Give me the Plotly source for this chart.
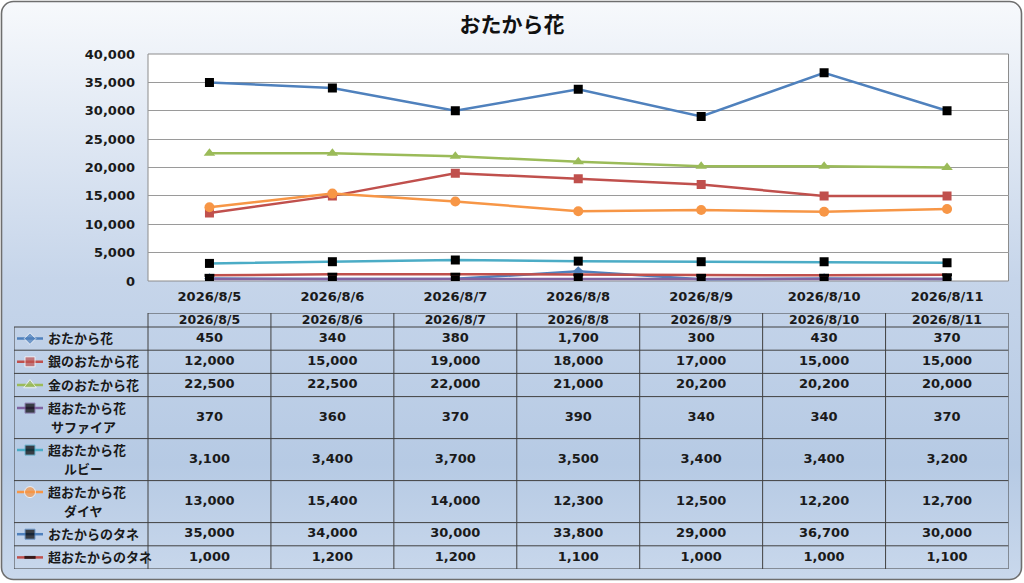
import base64

import plotly.graph_objects as go

# -- data -------------------------------------------------------------------
dates = ["2026/8/5", "2026/8/6", "2026/8/7", "2026/8/8", "2026/8/9", "2026/8/10", "2026/8/11"]
names = [
    "おたから花",
    "銀のおたから花",
    "金のおたから花",
    "超おたから花<br>サファイア",
    "超おたから花<br>ルビー",
    "超おたから花<br>ダイヤ",
    "おたからのタネ",
    "超おたからのタネ",
]
otakara = [450, 340, 380, 1700, 300, 430, 370]
gin = [12000, 15000, 19000, 18000, 17000, 15000, 15000]
kin = [22500, 22500, 22000, 21000, 20200, 20200, 20000]
sapphire = [370, 360, 370, 390, 340, 340, 370]
ruby = [3100, 3400, 3700, 3500, 3400, 3400, 3200]
diamond = [13000, 15400, 14000, 12300, 12500, 12200, 12700]
tane = [35000, 34000, 30000, 33800, 29000, 36700, 30000]
chou_tane = [1000, 1200, 1200, 1100, 1000, 1000, 1100]
series = [otakara, gin, kin, sapphire, ruby, diamond, tane, chou_tane]

# -- styles -----------------------------------------------------------------
line_colors = ["#4f81bd", "#c0504d", "#9bbb59", "#8064a2", "#4bacc6", "#f79646", "#4f81bd", "#c0504d"]
markers = [
    {"symbol": "diamond", "size": 8, "color": "#4f81bd"},
    {"symbol": "square", "size": 9, "color": "#c0504d"},
    {"symbol": "triangle-up", "size": 10, "color": "#9bbb59"},
    {"symbol": "square", "size": 9, "color": "black"},
    {"symbol": "square", "size": 9, "color": "black"},
    {"symbol": "circle", "size": 10, "color": "#f79646"},
    {"symbol": "square", "size": 9, "color": "black"},
    {"symbol": "line-ew", "size": 7, "color": "black", "line": {"color": "black", "width": 3}},
]

W, H = 1024, 583
FONT = "DejaVu Sans, Noto Sans CJK JP"
TXT = "#1a1a1a"
tfont = {"family": FONT, "size": 13, "color": TXT, "weight": "bold"}

# plot / table geometry in pixels
PL, PR, PT, PB = 148, 1008.5, 54, 281
TL = 14
TT = 313
col_w = (PR - PL) / len(dates)
header_h = 14
row_h = [23.2 if n.count("<br>") == 0 else 42 for n in names]
line_gap = 19


def px_to_tx(px):
    """Pixel x -> table axis units (data column i is centred on i)."""
    return -0.5 - (PL - px) / col_w


fig = go.Figure()

# -- chart ------------------------------------------------------------------
for name, vals, lc, mk in zip(names, series, line_colors, markers):
    fig.add_trace(
        go.Scatter(
            x=dates,
            y=vals,
            mode="lines+markers",
            name=name.replace("<br>", ""),
            line={"color": lc, "width": 2.5},
            marker=mk,
            showlegend=False,
            xaxis="x",
            yaxis="y",
        )
    )

# -- table ------------------------------------------------------------------
tops = [header_h]
for h in row_h[:-1]:
    tops.append(tops[-1] + h)
centers = [t + h / 2 for t, h in zip(tops, row_h)]
total_h = header_h + sum(row_h)

# header dates
fig.add_trace(
    go.Scatter(
        x=list(range(len(dates))),
        y=[header_h / 2 + 0.5] * len(dates),
        mode="text",
        text=dates,
        textfont={**tfont, "size": 12.5},
        showlegend=False,
        hoverinfo="skip",
        xaxis="x2",
        yaxis="y2",
    )
)
# values
for vals, cy in zip(series, centers):
    fig.add_trace(
        go.Scatter(
            x=list(range(len(dates))),
            y=[cy] * len(vals),
            mode="text",
            text=[f"{v:,}" for v in vals],
            textfont=tfont,
            showlegend=False,
            hoverinfo="skip",
            xaxis="x2",
            yaxis="y2",
        )
    )

# legend keys + labels in first column
key_x = [px_to_tx(17), px_to_tx(30), px_to_tx(43)]
for name, lc, mk, cy in zip(names, line_colors, markers, centers):
    parts = name.split("<br>")
    ky = cy - line_gap / 2 if len(parts) == 2 else cy
    fig.add_trace(
        go.Scatter(
            x=key_x,
            y=[ky] * 3,
            mode="lines+markers",
            line={"color": lc, "width": 2.5},
            marker={**mk, "size": [0, mk["size"] + 1, 0]},
            showlegend=False,
            hoverinfo="skip",
            xaxis="x2",
            yaxis="y2",
        )
    )
    fig.add_annotation(
        x=px_to_tx(46), y=ky, xref="x2", yref="y2", text=parts[0],
        showarrow=False, xanchor="left", yanchor="middle", font=tfont,
    )
    if len(parts) == 2:
        fig.add_annotation(
            x=px_to_tx(83), y=ky + line_gap, xref="x2", yref="y2", text=parts[1],
            showarrow=False, xanchor="center", yanchor="middle", font=tfont,
        )

# table grid
grid = {"color": "#404040", "width": 1}
x_left = px_to_tx(TL)
x_right = len(dates) - 0.5
shapes = [
    dict(
        type="rect", xref="x domain", yref="y domain", x0=0, x1=1, y0=0, y1=1,
        fillcolor="white", line={"color": "#8c8c8c", "width": 1}, layer="below",
    ),
    dict(type="line", xref="x2", yref="y2", x0=-0.5, x1=x_right, y0=0, y1=0, line=grid),
]
for t in tops + [total_h]:
    shapes.append(dict(type="line", xref="x2", yref="y2", x0=x_left, x1=x_right, y0=t, y1=t, line=grid))
shapes.append(dict(type="line", xref="x2", yref="y2", x0=x_left, x1=x_left, y0=header_h, y1=total_h, line=grid))
for i in range(len(dates) + 1):
    xv = i - 0.5
    shapes.append(dict(type="line", xref="x2", yref="y2", x0=xv, x1=xv, y0=0, y1=total_h, line=grid))

# background: rounded gradient panel
svg = (
    f'<svg xmlns="http://www.w3.org/2000/svg" width="{W}" height="{H}" '
    f'viewBox="0 0 {W} {H}" preserveAspectRatio="none">'
    '<defs><linearGradient id="g" x1="0" y1="0" x2="0" y2="1">'
    '<stop offset="0" stop-color="#f7f9fc"/>'
    '<stop offset="0.48" stop-color="#c6d5ea"/>'
    '<stop offset="0.8" stop-color="#b6cae4"/>'
    '<stop offset="1" stop-color="#c9d8ec"/>'
    "</linearGradient></defs>"
    f'<rect x="1.5" y="1.5" width="{W - 4}" height="{H - 5}" rx="12" '
    'fill="url(#g)" stroke="#6e6e6e" stroke-width="1.6"/></svg>'
)
bg_src = "data:image/svg+xml;base64," + base64.b64encode(svg.encode()).decode()

fig.update_layout(
    width=W,
    height=H,
    margin={"l": 0, "r": 0, "t": 0, "b": 0, "pad": 0},
    paper_bgcolor="white",
    plot_bgcolor="rgba(0,0,0,0)",
    title={
        "text": "おたから花",
        "x": 0.5,
        "xanchor": "center",
        "y": 1 - 25 / H,
        "yanchor": "middle",
        "font": {"family": "Noto Sans CJK JP", "size": 21, "color": "#111", "weight": "bold"},
    },
    images=[
        dict(
            source=bg_src, xref="paper", yref="paper", x=0, y=1, sizex=1, sizey=1,
            xanchor="left", yanchor="top", sizing="stretch", layer="below",
        )
    ],
    shapes=shapes,
    xaxis=dict(
        domain=[PL / W, PR / W],
        anchor="y",
        type="category",
        range=[-0.5, len(dates) - 0.5],
        showgrid=False,
        showline=False,
        zeroline=False,
        tickfont=tfont,
        ticklabelstandoff=6,
        automargin=False,
        fixedrange=True,
    ),
    yaxis=dict(
        domain=[1 - PB / H, 1 - PT / H],
        anchor="x",
        range=[0, 40000],
        dtick=5000,
        tickformat=",",
        showgrid=True,
        gridcolor="#9a9a9a",
        gridwidth=1,
        zeroline=False,
        showline=False,
        tickfont=tfont,
        ticklabelstandoff=12,
        automargin=False,
        fixedrange=True,
    ),
    xaxis2=dict(
        domain=[TL / W, PR / W], anchor="y2", range=[x_left, x_right],
        visible=False, automargin=False, fixedrange=True,
    ),
    yaxis2=dict(
        domain=[1 - (TT + total_h) / H, 1 - TT / H], anchor="x2", range=[total_h, 0],
        visible=False, automargin=False, fixedrange=True,
    ),
)

fig.write_html(
    "out.html",
    config={"displayModeBar": False},
    post_script="document.body.style.margin='0';",
)
